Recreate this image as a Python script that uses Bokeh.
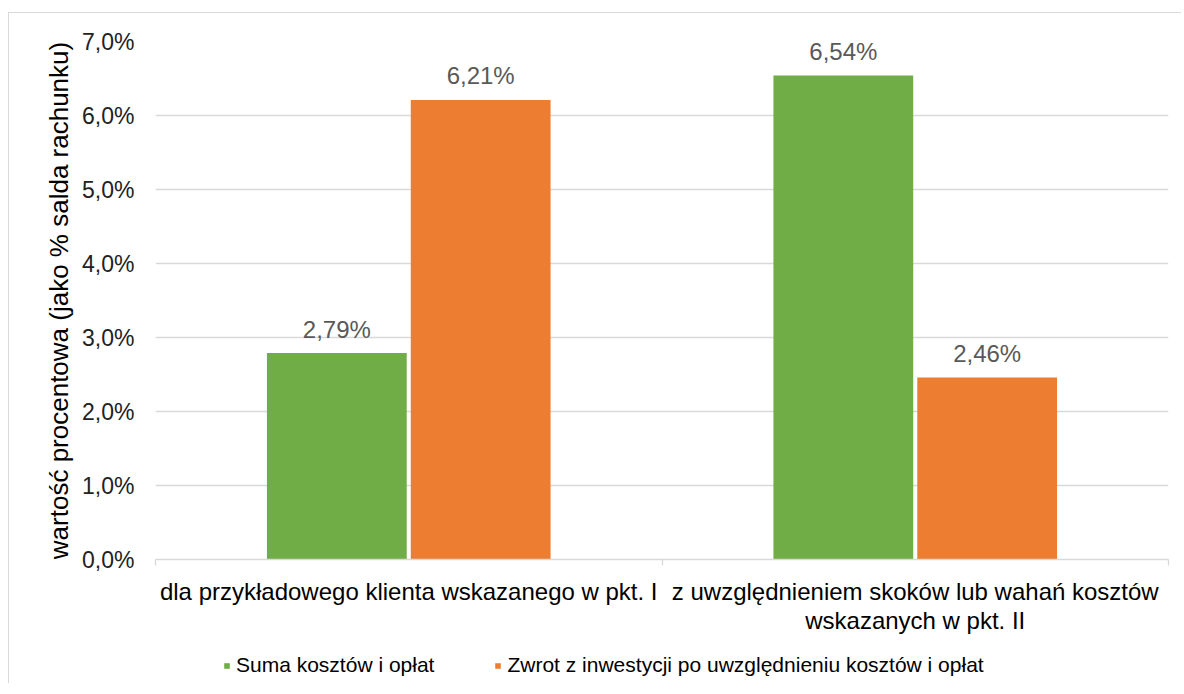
from bokeh.plotting import figure
from bokeh.layouts import column
from bokeh.models import (ColumnDataSource, FixedTicker, Range1d, Legend, LegendItem)
from bokeh.embed import file_html
from bokeh.resources import INLINE
from bokeh.core.properties import value

categories = ["dla przykładowego klienta wskazanego w pkt. I",
              "z uwzględnieniem skoków lub wahań kosztów\nwskazanych w pkt. II"]
series_names = ["Suma kosztów i opłat",
                "Zwrot z inwestycji po uwzględnieniu kosztów i opłat"]
suma_values = [2.79, 6.54]
zwrot_values = [6.21, 2.46]
y_ticks = [0, 1, 2, 3, 4, 5, 6, 7]
y_tick_labels = ["0,0%", "1,0%", "2,0%", "3,0%", "4,0%", "5,0%", "6,0%", "7,0%"]
y_title = "wartość procentowa (jako % salda rachunku)"

colors = ["#70AD47", "#ED7D31"]
FONT = "Liberation Sans"
offsets = [-0.142, 0.142]
bar_w = 0.276
W = 1172

p = figure(width=W, height=626, output_backend="svg", toolbar_location=None,
           x_range=Range1d(0, 2), y_range=Range1d(0, 7),
           min_border_left=146, min_border_right=13, min_border_top=28, min_border_bottom=80,
           background_fill_color="white", border_fill_color="white")
p.outline_line_color = None

for i, vals in enumerate([suma_values, zwrot_values]):
    xs = [k + 0.5 + offsets[i] for k in range(len(categories))]
    src = ColumnDataSource(dict(x=xs, top=vals,
                                lab=[("%.2f" % v).replace(".", ",") + "%" for v in vals]))
    p.vbar(x="x", top="top", width=bar_w, bottom=0, source=src,
           fill_color=colors[i], line_color=None)
    p.text(x="x", y="top", text="lab", source=src, text_align="center",
           text_baseline="alphabetic", y_offset=-24, text_color="#595959",
           text_font=value(FONT), text_font_size="24px")

# grid
p.xgrid.grid_line_color = None
p.ygrid.grid_line_color = "#d9d9d9"
p.ygrid.grid_line_width = 1.3

# y axis
p.yaxis.ticker = FixedTicker(ticks=y_ticks)
p.yaxis.major_label_overrides = {t: l for t, l in zip(y_ticks, y_tick_labels)}
p.yaxis.axis_line_color = None
p.yaxis.major_tick_line_color = None
p.yaxis.minor_tick_line_color = None
p.yaxis.major_label_text_font = FONT
p.yaxis.major_label_text_font_size = "23px"
p.yaxis.major_label_text_color = "#222222"
p.yaxis.major_label_standoff = 15
p.yaxis.axis_label = y_title
p.yaxis.axis_label_text_font = FONT
p.yaxis.axis_label_text_font_size = "26px"
p.yaxis.axis_label_text_font_style = "normal"
p.yaxis.axis_label_text_color = "#000000"
p.yaxis.axis_label_standoff = 5

# x axis
cat_pos = [k + 0.5 for k in range(len(categories))]
bounds = [k for k in range(len(categories) + 1)]
p.xaxis.ticker = FixedTicker(ticks=cat_pos, minor_ticks=bounds)
p.xaxis.major_label_overrides = {t: c for t, c in zip(cat_pos, categories)}
p.xaxis.axis_line_color = "#d9d9d9"
p.xaxis.axis_line_width = 1.3
p.xaxis.major_tick_line_color = None
p.xaxis.minor_tick_line_color = "#d9d9d9"
p.xaxis.minor_tick_line_width = 1.3
p.xaxis.minor_tick_out = 6
p.xaxis.minor_tick_in = 0
p.xaxis.major_label_text_font = FONT
p.xaxis.major_label_text_font_size = "24px"
p.xaxis.major_label_text_color = "#000000"
p.xaxis.major_label_text_line_height = 1.1
p.xaxis.major_label_standoff = 12

# legend in its own strip below the chart
lf = figure(width=W, height=44, output_backend="svg", toolbar_location=None,
            x_axis_type=None, y_axis_type=None,
            x_range=Range1d(0, 1), y_range=Range1d(0, 1),
            min_border_left=0, min_border_right=0, min_border_top=0, min_border_bottom=0,
            background_fill_color="white", border_fill_color="white")
lf.outline_line_color = None
leg_renderers = []
for c in colors:
    leg_renderers.append(lf.quad(left=[5], right=[6], bottom=[5], top=[6],
                                 fill_color=c, line_color=None))
legend = Legend(items=[LegendItem(label=n, renderers=[r]) for n, r in zip(series_names, leg_renderers)],
                orientation="horizontal", location=(68, 6),
                label_text_font=FONT, label_text_font_size="21px",
                label_text_color="#000000",
                glyph_width=7, glyph_height=7, spacing=60, label_standoff=6,
                padding=4, margin=0,
                border_line_color=None, background_fill_alpha=0)
lf.add_layout(legend, "center")

layout = column(p, lf, spacing=0)
layout.styles = {"border-left": "1px solid #d9d9d9", "border-top": "1px solid #d9d9d9"}
layout.margin = (12, 0, 0, 8)

open("out.html", "w").write(file_html(layout, INLINE))
